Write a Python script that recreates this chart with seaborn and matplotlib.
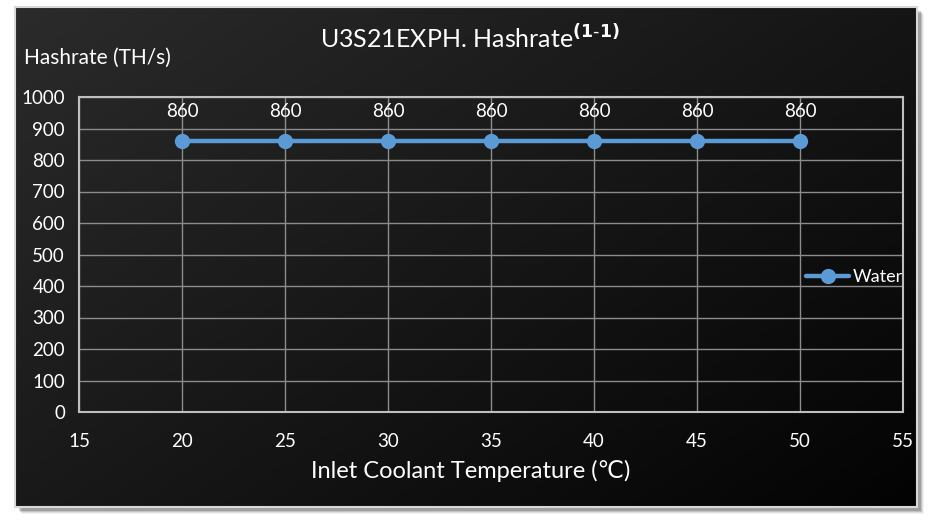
import matplotlib
matplotlib.use("Agg")
import matplotlib.pyplot as plt
import numpy as np
import pandas as pd
import seaborn as sns

temperature = [20, 25, 30, 35, 40, 45, 50]
hashrate = [860, 860, 860, 860, 860, 860, 860]
series_name = "Water"

df = pd.DataFrame({"temp": temperature, "hashrate": hashrate, "medium": series_name})

sns.set_style("dark")
plt.rcParams["font.family"] = ["Lato", "DejaVu Sans"]

fig = plt.figure(figsize=(9.32, 5.30), dpi=100, facecolor="white")
W, H = 932, 530

# drop shadow + dark gradient panel
for i, a in enumerate([0.05, 0.08, 0.12, 0.18]):
    off = 7 - i
    fig.patches.append(plt.Rectangle(((15 + off) / W, 1 - (507 + off) / H), 902 / W, 500 / H,
                                     transform=fig.transFigure, facecolor="black", alpha=a,
                                     edgecolor="none", zorder=0))
bg = fig.add_axes([15 / W, 1 - 507 / H, 902 / W, 500 / H], zorder=1)
yy, xx = np.mgrid[0:1:200j, 0:1:300j]
grad = 0.55 * xx + 0.45 * yy
bg.imshow(grad, cmap=matplotlib.colors.LinearSegmentedColormap.from_list("g", ["#2b2b2b", "#030303"]),
          aspect="auto", extent=[0, 1, 0, 1], origin="upper")
bg.set_xticks([])
bg.set_yticks([])
for s in bg.spines.values():
    s.set_color("#d9d9d9")
    s.set_linewidth(1.5)

ax = fig.add_axes([79 / W, 1 - 412 / H, 824 / W, 315 / H], zorder=2)
ax.set_facecolor("none")
sns.lineplot(data=df, x="temp", y="hashrate", hue="medium", palette=["#5b9bd5"],
             marker="o", markersize=11, markeredgewidth=0, linewidth=3.2, ax=ax)

for x, y in zip(temperature, hashrate):
    ax.annotate(str(y), (x, y), xytext=(0, 21), textcoords="offset points",
                ha="center", va="center", color="white", fontsize=13.5)

ax.set_xlim(15, 55)
ax.set_ylim(0, 1000)
ax.set_xticks(range(15, 56, 5))
ax.set_yticks(range(0, 1001, 100))
ax.grid(True, color="#8c8c8c", linewidth=1)
for s in ax.spines.values():
    s.set_visible(True)
    s.set_color("#bfbfbf")
    s.set_linewidth(1.5)
ax.tick_params(colors="white", labelsize=13.5, length=0)
ax.tick_params(axis="x", pad=15)
ax.tick_params(axis="y", pad=10)
ax.set_xlabel("")
ax.set_ylabel("")

fig.text(24 / W, 1 - 58 / H, "Hashrate (TH/s)", color="white", fontsize=15, ha="left", va="center")
fig.text(471 / W, 1 - 471 / H, "Inlet Coolant Temperature (\u2103)", color="white",
         fontsize=17, ha="center", va="center")
fig.text(470 / W, 1 - 38 / H, r"U3S21EXPH. Hashrate$^{\mathbf{(1\text{-}1)}}$", color="white",
         fontsize=18, ha="center", va="center")

leg = ax.legend(loc="center left", bbox_to_anchor=(797 / W, 1 - 277 / H),
                bbox_transform=fig.transFigure, frameon=False, fontsize=13,
                handlelength=2.4, handletextpad=0.2, borderpad=0)
for t in leg.get_texts():
    t.set_color("white")

fig.savefig("out.png", dpi=100, facecolor="white")
